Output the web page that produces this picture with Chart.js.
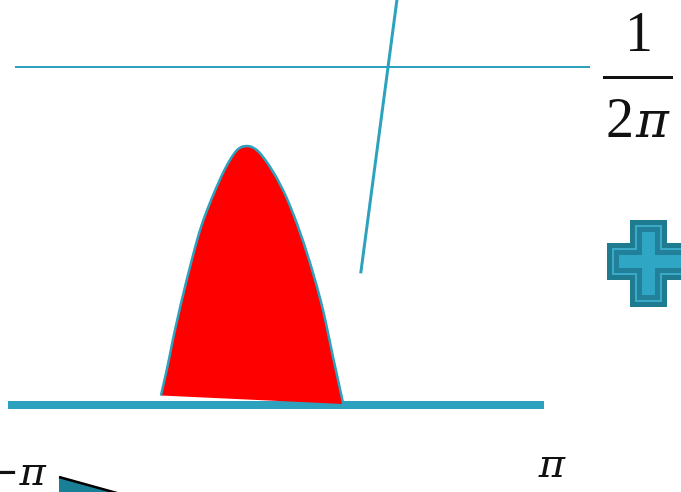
<!DOCTYPE html>
<html>
<head>
<meta charset="utf-8">
<script src="https://cdn.jsdelivr.net/npm/chart.js@4/dist/chart.umd.min.js"></script>
<style>
    html, body { margin: 0; padding: 0; background: #fff; overflow: hidden; }
    canvas { display: block; }
</style>
</head>
<body>
<canvas id="densidad" width="681" height="492"></canvas>
<script>
/* ==================
    DATOS
================== */

// curva de la joroba (borde superior del area roja)
const jorobaX = [-1.494, -1.426, -1.328, -1.189, -1.031, -0.833, -0.676, -0.581, -0.478, -0.359, -0.202, -0.047, 0.115, 0.273, 0.427, 0.545, 0.667];
const jorobaY = [0.0045, 0.0165, 0.0353, 0.0589, 0.0824, 0.1028, 0.1154, 0.1205, 0.1220, 0.1201, 0.1122, 0.1012, 0.0857, 0.0669, 0.0447, 0.0227, 0.0005];

// cuerda inferior que cierra el area roja
const cuerdaX = [-1.494, 0.667];
const cuerdaY = [0.0045, 0.0005];

// eje base
const baseX = [-3.308, 3.047];
const baseY = [0, 0];

// nivel 1/(2pi)
const nivelX = [-3.225, 3.592];
const nivelY = [0.1592, 0.1592];

// recta inclinada
const rectaX = [1.311, 0.874];
const rectaY = [0.1931, 0.0620];

// cuña oscura abajo a la izquierda
const cunaX = [-2.703, -1.721, -2.703, -2.703];
const cunaY = [-0.0339, -0.0447, -0.0447, -0.0339];

// etiquetas del eje
const etiquetasEje = ["\u2212\u03C0", "\u03C0"];
const valoresEje = [-Math.PI, Math.PI];

const fraccionArriba = "1";
const fraccionAbajo = ["2", "\u03C0"];

const TEAL = "#2ca2bf";

function puntos(xs, ys) {
    return xs.map((x, i) => ({ x: x, y: ys[i] }));
}

function linea(xs, ys, extra) {
    return Object.assign({
        data: puntos(xs, ys),
        showLine: true,
        pointRadius: 0,
        fill: false,
        tension: 0,
    }, extra);
}

/* ==================
    DECORACION
================== */

function dibujarCruz(ctx, inset, color) {
    ctx.fillStyle = color;
    ctx.fillRect(630 + inset, 220 + inset, 37 - 2 * inset, 87 - 2 * inset);
    ctx.fillRect(607 + inset, 243 + inset, 100, 37 - 2 * inset);
}

const decoracion = {
    id: "decoracion",
    afterDraw(chart) {
        const ctx = chart.ctx;
        const escalaX = chart.scales.x;

        ctx.save();

        // icono de la cruz
        dibujarCruz(ctx, 0, "#1f7b90");
        dibujarCruz(ctx, 5, "#3aaac6");
        dibujarCruz(ctx, 7, "#22809a");
        dibujarCruz(ctx, 12, "#2ea6c4");

        // fraccion 1 / 2pi
        ctx.fillStyle = "#111";
        ctx.textBaseline = "alphabetic";
        ctx.textAlign = "center";
        ctx.font = "56px 'Liberation Serif'";
        ctx.fillText(fraccionArriba, 639, 51);
        ctx.fillRect(603, 76, 70, 3);
        ctx.textAlign = "left";
        ctx.fillText(fraccionAbajo[0], 606, 137);
        ctx.font = "italic 50px 'DejaVu Serif'";
        ctx.fillText(fraccionAbajo[1], 636, 137);

        // etiquetas -pi y pi
        ctx.textAlign = "center";
        ctx.font = "italic 40px 'DejaVu Serif'";
        const bajada = [485, 477];
        const ajuste = [-6, 0];
        etiquetasEje.forEach((texto, i) => {
            const px = escalaX.getPixelForValue(valoresEje[i]);
            ctx.fillText(texto, px + ajuste[i], bajada[i]);
        });

        ctx.restore();
    },
};

/* ==================
    GRAFICA
================== */

function crearGrafica() {
    const canvas = document.getElementById("densidad");
    if (!canvas || typeof Chart === "undefined") {
        return;
    }

    new Chart(canvas.getContext("2d"), {
        type: "scatter",
        data: {
            datasets: [
                linea(jorobaX, jorobaY, {
                    borderColor: TEAL,
                    borderWidth: 2.5,
                    backgroundColor: "#ff0000",
                    fill: { target: "+1", above: "#ff0000", below: "#ff0000" },
                    cubicInterpolationMode: "monotone",
                }),
                linea(cuerdaX, cuerdaY, {
                    borderColor: "rgba(0,0,0,0)",
                    borderWidth: 0,
                }),
                linea(rectaX, rectaY, {
                    borderColor: TEAL,
                    borderWidth: 3,
                }),
                linea(nivelX, nivelY, {
                    borderColor: TEAL,
                    borderWidth: 2,
                }),
                linea(baseX, baseY, {
                    borderColor: TEAL,
                    borderWidth: 8,
                }),
                linea(cunaX.slice(0, 2), cunaY.slice(0, 2), {
                    borderColor: "#000",
                    borderWidth: 2.5,
                }),
                linea(cunaX, cunaY, {
                    borderColor: "rgba(0,0,0,0)",
                    borderWidth: 0,
                    backgroundColor: "#197f97",
                    fill: "shape",
                }),
            ],
        },
        options: {
            responsive: false,
            animation: false,
            events: [],
            layout: { padding: 0 },
            plugins: {
                legend: { display: false },
                tooltip: { enabled: false },
            },
            scales: {
                x: { type: "linear", display: false, min: -3.4025, max: 4.671 },
                y: { type: "linear", display: false, min: -0.04096, max: 0.1907 },
            },
        },
        plugins: [decoracion],
    });
}

if (document.readyState === "loading") {
    document.addEventListener("DOMContentLoaded", crearGrafica);
} else {
    crearGrafica();
}
</script>
</body>
</html>
